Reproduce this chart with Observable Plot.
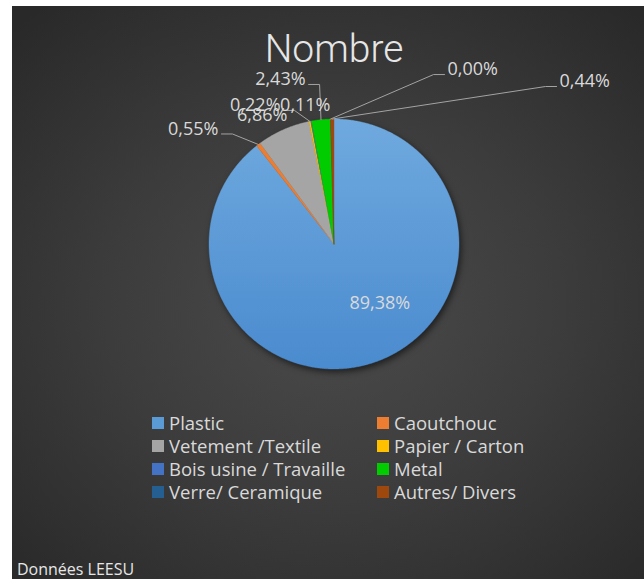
<!DOCTYPE html>
<html><head><meta charset="utf-8">
<script src="https://cdn.jsdelivr.net/npm/d3@7"></script>
<script src="https://cdn.jsdelivr.net/npm/@observablehq/plot@0.6"></script>
<style>
html,body{margin:0;padding:0;background:#fff;}
#frame{position:absolute;left:12px;top:6px;width:632px;height:573px;overflow:hidden;
  background:radial-gradient(ellipse 72% 68% at 51% 52%, #4b4b4b 0%, #3c3c3c 50%, #292929 100%);}
#chart{position:absolute;left:0;top:0;}
#title{position:absolute;left:0;width:644px;top:25.5px;text-align:center;font-family:Roboto,"Open Sans",sans-serif;font-weight:300;font-size:39px;line-height:34px;color:#e6e6e6;}
#legend{position:absolute;left:140px;top:406px;}
#caption{position:absolute;left:5px;top:555px;font-family:"Open Sans",sans-serif;font-size:16px;line-height:16px;color:#e6e6e6;white-space:nowrap;}
.leg-swatches{font-family:"Open Sans",sans-serif;font-size:18.5px;color:#d9d9d9;column-gap:0;margin:0;}
.leg-swatch{line-height:22px;padding-bottom:1px;}
.leg-swatch > svg{margin-right:5px;}
.leg-swatch-label{overflow:visible !important;text-overflow:clip !important;}
</style></head>
<body><div id="frame"><div id="chart"></div><div id="title"></div><div id="legend"></div><div id="caption"></div></div>
<script>
// ---- data ----
const categories = ["Plastic","Caoutchouc","Vetement /Textile","Papier / Carton","Bois usine / Travaille","Metal","Verre/ Ceramique","Autres/ Divers"];
const counts = [808, 5, 62, 2, 1, 22, 0, 4];
const colors = ["#5b9bd5","#ed7d31","#a5a5a5","#ffc000","#4472c4","#00cc00","#255e91","#9e480e"];
const titleText = "Nombre";
const captionText = "Données LEESU";

// ---- layout (px) ----
const W = 632, H = 573, CX = 321.5, CY = 237.5, R = 125;
const labelLayout = [
  {dx: -25.4, dy: -58.6, anchor: "start", leader: false},
  {dx: -39.9, dy: -15.5, anchor: "end", leader: true},
  {dx: 4.1, dy: -14.2, anchor: "end", leader: false},
  {dx: -29.3, dy: -15.9, anchor: "end", leader: true},
  {dx: 19.4, dy: -15.6, anchor: "end", leader: false},
  {dx: -15.4, dy: -40.2, anchor: "end", leader: true},
  {dx: 117, dy: -49.5, anchor: "start", leader: true},
  {dx: 227.3, dy: -37.5, anchor: "start", leader: true}
];

const total = d3.sum(counts);
const fmt = v => (v / total * 100).toFixed(2).replace(".", ",") + "%";
let acc = 0;
const slices = categories.map((c, i) => {
  const a0 = acc / total * 2 * Math.PI; acc += counts[i];
  const a1 = acc / total * 2 * Math.PI;
  return {c, i, v: counts[i], a0, a1, mid: (a0 + a1) / 2};
});
const piePts = slices.flatMap(s => {
  const pts = [{c: s.c, x: 0, y: 0}];
  const n = Math.max(1, Math.ceil((s.a1 - s.a0) / (Math.PI / 360)));
  for (let k = 0; k <= n; k++) {
    const a = s.a0 + (s.a1 - s.a0) * k / n;
    pts.push({c: s.c, x: Math.sin(a), y: Math.cos(a)});
  }
  pts.push({c: s.c, x: 0, y: 0});
  return pts;
});
const labels = slices.map((s, i) => {
  const L = labelLayout[i];
  const ex = Math.sin(s.mid), ey = Math.cos(s.mid);
  return {...s, ex, ey, lx: ex + L.dx / R, ly: ey - L.dy / R, anchor: L.anchor, leader: L.leader, text: fmt(s.v)};
});
const leaderPts = labels.filter(d => d.leader).flatMap(d => {
  const sgn = d.anchor === "end" ? 1 : -1;
  const sx = d.lx + sgn * 3 / R, sy = d.ly - 5 / R;
  const bx = sx + sgn * 11 / R;
  return [{c: d.c, x: sx, y: sy}, {c: d.c, x: bx, y: sy}, {c: d.c, x: d.ex, y: d.ey}];
});

const chart = Plot.plot({
  width: W, height: H,
  margin: 0,
  x: {domain: [-CX / R, (W - CX) / R], axis: null},
  y: {domain: [-(H - CY) / R, CY / R], axis: null},
  color: {domain: categories, range: colors},
  style: {background: "transparent", color: "#d9d9d9", fontFamily: "'Open Sans', sans-serif", overflow: "visible"},
  marks: [
    Plot.line(piePts, {x: "x", y: "y", z: "c", fill: "c", stroke: "c", strokeWidth: 0.4, curve: "linear"}),
    Plot.line(leaderPts, {x: "x", y: "y", z: "c", stroke: "#a3a3a3", strokeWidth: 1, fill: "none", curve: "linear"}),
    Plot.text(labels.filter(d => d.anchor === "start"), {x: "lx", y: "ly", text: "text", textAnchor: "start", fill: "#d9d9d9", fontSize: 18, fontFamily: "'Open Sans', sans-serif"}),
    Plot.text(labels.filter(d => d.anchor === "end"), {x: "lx", y: "ly", text: "text", textAnchor: "end", fill: "#d9d9d9", fontSize: 18, fontFamily: "'Open Sans', sans-serif"})
  ]
});

// gradient for the main slice + soft shadow
const svg = d3.select(chart);
const defs = svg.insert("defs", ":first-child");
const g = defs.append("linearGradient").attr("id", "plasticGrad").attr("x1", 0).attr("y1", 0).attr("x2", 0).attr("y2", 1);
g.append("stop").attr("offset", "0%").attr("stop-color", "#6fa9de");
g.append("stop").attr("offset", "100%").attr("stop-color", "#4a8bcf");
const pieG = svg.select("g[aria-label='line']");
pieG.style("filter", "drop-shadow(2px 3px 3px rgba(0,0,0,0.55))");
pieG.selectAll("path").each(function() {
  if (this.getAttribute("fill") === colors[0]) {
    this.setAttribute("fill", "url(#plasticGrad)");
    this.setAttribute("stroke", "url(#plasticGrad)");
  }
});
document.getElementById("chart").appendChild(chart);

document.getElementById("title").textContent = titleText;
document.getElementById("caption").textContent = captionText;

const order = d3.range(categories.length).sort((a, b) => (a % 2 - b % 2) || (a - b));
const legend = Plot.legend({
  color: {domain: order.map(i => categories[i]), range: order.map(i => colors[i])},
  legend: "swatches", columns: 2, swatchSize: 12, className: "leg", width: 450
});
document.getElementById("legend").appendChild(legend);
</script>
</body></html>
